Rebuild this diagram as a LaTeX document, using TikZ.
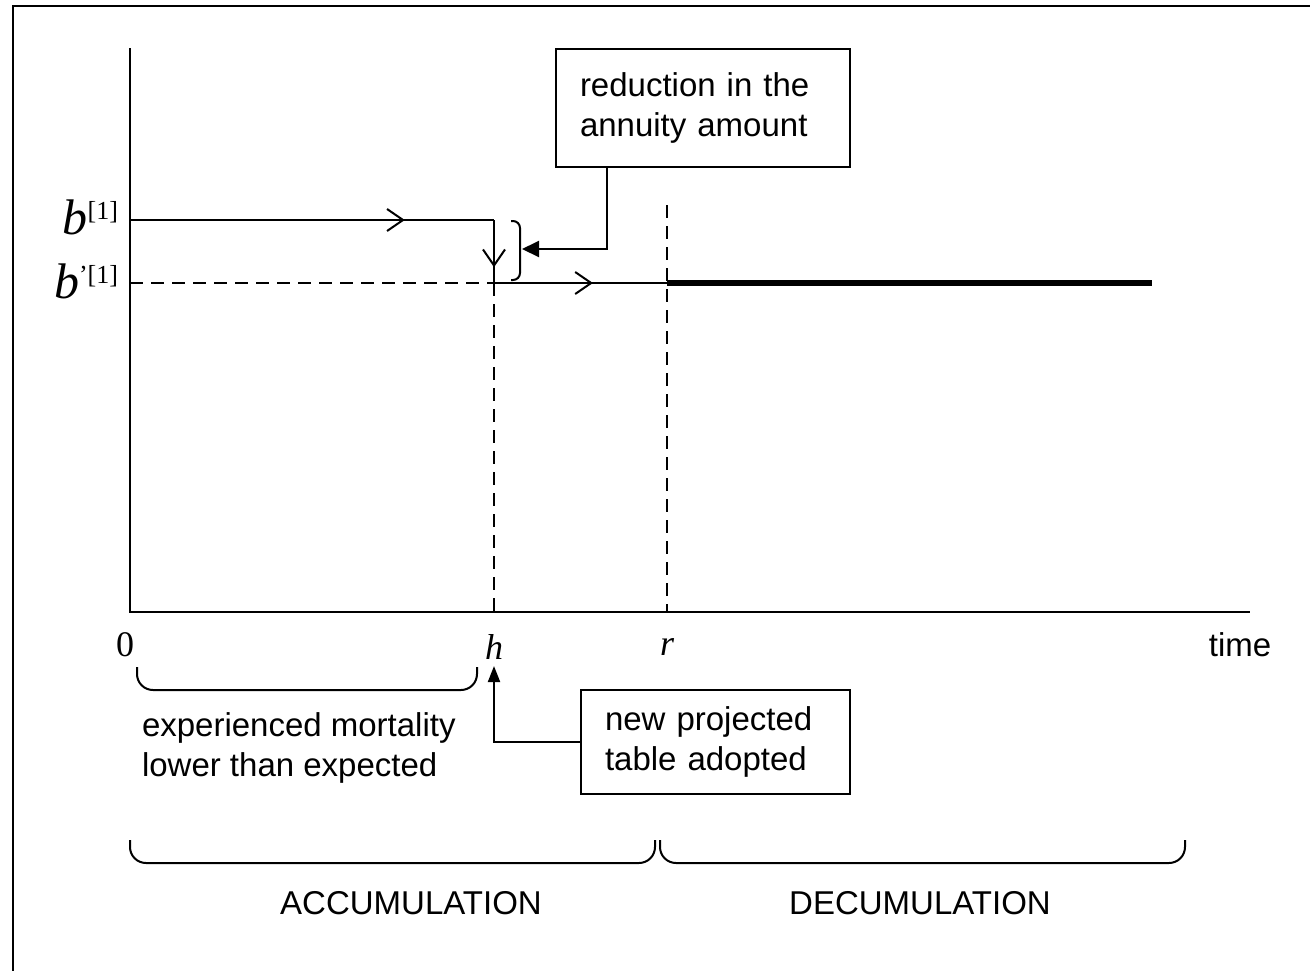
\documentclass[tikz,border=0pt]{standalone}
\usepackage{fontspec}
\setmainfont{Liberation Sans}
\newfontfamily\serifmath{Liberation Serif}
\usetikzlibrary{arrows.meta,decorations.markings,calc}
\begin{document}
\begin{tikzpicture}[x=1pt,y=-1pt,
  every node/.style={inner sep=0pt, outer sep=0pt},
  sans/.style={font=\fontsize{33}{40}\selectfont},
  mathlab/.style={font=\serifmath\itshape\fontsize{36}{36}\selectfont},
  box/.style={draw, line width=1.5pt, sans, align=left},
  axis/.style={line width=2.5pt},
  thinl/.style={line width=2pt},
  dashline/.style={line width=1.8pt, dash pattern=on 13pt off 8pt},
  brace/.style={line width=2pt, rounded corners=16pt},
  barb/.style={postaction=decorate, decoration={markings, mark=at position #1 with {\arrow{Straight Barb[length=16pt,width=22pt]}}}},
  solidtip/.style={-{Triangle[length=17pt,width=16pt]}},
  solidtipsmall/.style={-{Triangle[length=16pt,width=12pt]}}]
\useasboundingbox (0,0) rectangle (1310,970);
\draw[line width=2.5pt] (13,975) -- (13,6) -- (1315,6);

\coordinate (O) at (130,612);
\coordinate (ytop) at (130,48);
\coordinate (xend) at (1250,612);
\coordinate (b1s) at (130,220);
\coordinate (b1h) at (494,220);
\coordinate (b2s) at (130,283);
\coordinate (b2h) at (494,283);
\coordinate (hx) at (494,612);
\coordinate (rtop) at (667,205);
\coordinate (b2r) at (667,283);
\coordinate (rx) at (667,612);
\coordinate (b2end) at (1152,283);
\coordinate (brtip) at (522,249);
\coordinate (htip) at (494,666);

\draw[axis] (ytop) -- (O) -- (xend);
\draw[thinl, barb=0.755] (b1s) -- (b1h);
\draw[thinl, barb=0.75] (b1h) -- (b2h);
\draw[dashline] (b2s) -- (b2h);
\draw[dashline] (b2h) -- (hx);
\draw[dashline] (rtop) -- (rx);
\draw[thinl, barb=0.572] (b2h) -- (b2r);
\draw[line width=6pt] (b2r) -- (b2end);

\draw[thinl, rounded corners=7pt] (511,221) -- (520,221) -- (520,280) -- (511,280);

\node[box, minimum width=294pt, minimum height=118pt, text width=246pt] (red) at (703,108) {reduction in the\\annuity amount};
\node[box, minimum width=269pt, minimum height=104pt, text width=221pt] (newt) at (715.5,742) {new projected\\table adopted};

\draw[thinl, solidtip] ([xshift=51pt]red.south west) |- (brtip);
\draw[thinl, solidtipsmall] (newt.west) -| (htip);

\draw[brace] (137,667) -- (137,690) -- (477,690) -- (477,667);
\draw[brace] (130,840) -- (130,863) -- (655,863) -- (655,840);
\draw[brace] (660,840) -- (660,863) -- (1185,863) -- (1185,840);

\node[anchor=base east, font=\serifmath\fontsize{50}{50}\selectfont] (b1) at (118,234) {\textit{b}\raisebox{15pt}{\fontsize{26}{26}\selectfont[1]}};
\node[anchor=base east, font=\serifmath\fontsize{50}{50}\selectfont] (b2) at (118,298) {\textit{b}\raisebox{15pt}{\fontsize{26}{26}\selectfont’[1]}};

\node[font=\serifmath\fontsize{36}{36}\selectfont] (zero) at (125,645) {0};
\node[mathlab] (hl) at (494,647) {h};
\node[mathlab] (rl) at (667,647) {r};
\node[sans] (time) at (1240,645) {time};

\node[sans, align=left, anchor=west] (exp) at (142,747.5) {experienced mortality\\lower than expected};
\node[sans] (acc) at (411,903) {ACCUMULATION};
\node[sans] (dec) at (920,903) {DECUMULATION};
\end{tikzpicture}
\end{document}
